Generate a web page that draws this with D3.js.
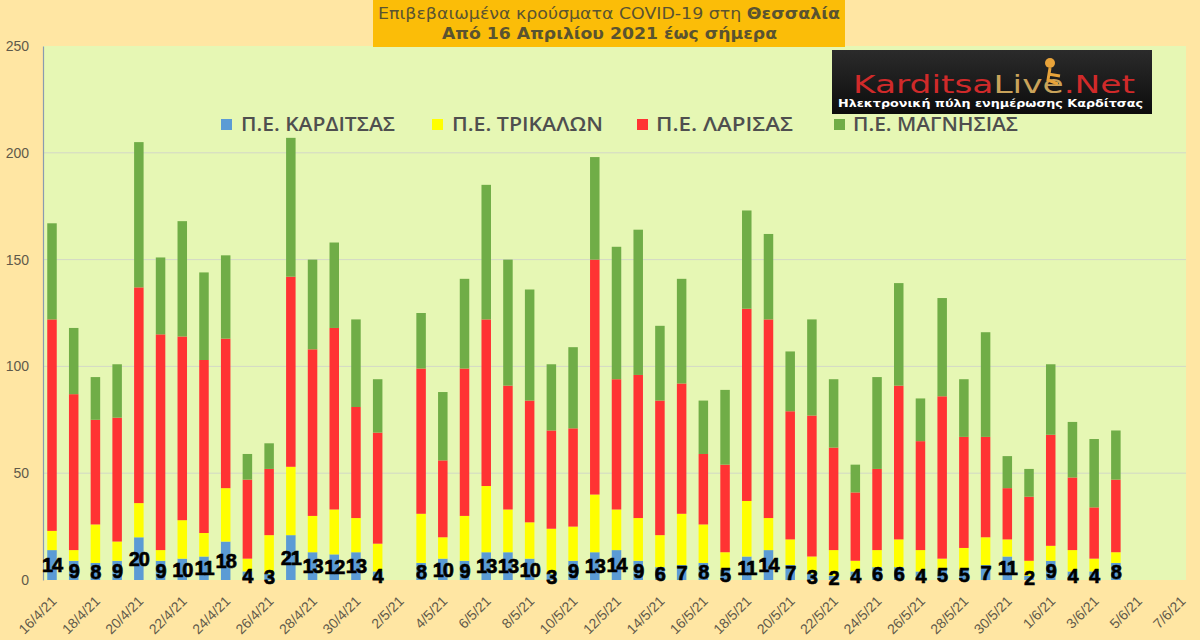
<!DOCTYPE html>
<html>
<head>
<meta charset="utf-8">
<script src="https://cdn.jsdelivr.net/npm/d3@7"></script>
<style>
  body { margin: 0; background: #ffe6a3; }
  svg { display: block; }
</style>
</head>
<body>
<div id="chart"></div>
<script>
// dates with data (2/5/21 has no report)
const days = [
  "16/4", "17/4", "18/4", "19/4", "20/4", "21/4", "22/4", "23/4", "24/4", "25/4", "26/4", "27/4", "28/4", "29/4", "30/4", "1/5",
  "3/5", "4/5", "5/5", "6/5", "7/5", "8/5", "9/5", "10/5", "11/5", "12/5", "13/5", "14/5", "15/5", "16/5", "17/5", "18/5", "19/5", "20/5",
  "21/5", "22/5", "23/5", "24/5", "25/5", "26/5", "27/5", "28/5", "29/5", "30/5", "31/5", "1/6", "2/6", "3/6", "4/6"
];
const karditsa = [14, 9, 8, 9, 20, 9, 10, 11, 18, 4, 3, 21, 13, 12, 13, 4,
  8, 10, 9, 13, 13, 10, 3, 9, 13, 14, 9, 6, 7, 8, 5, 11, 14, 7,
  3, 2, 4, 6, 6, 4, 5, 5, 7, 11, 2, 9, 4, 4, 8];
const trikala = [9, 5, 18, 9, 16, 5, 18, 11, 25, 6, 18, 32, 17, 21, 16, 13,
  23, 10, 21, 31, 20, 17, 21, 16, 27, 19, 20, 15, 24, 18, 8, 26, 15, 12,
  8, 12, 5, 8, 13, 10, 5, 10, 13, 8, 7, 7, 10, 6, 5];
const larisa = [99, 73, 49, 58, 101, 101, 86, 81, 70, 37, 31, 89, 78, 85, 52, 52,
  68, 36, 69, 78, 58, 57, 46, 46, 110, 61, 67, 63, 61, 33, 41, 90, 93, 60,
  66, 48, 32, 38, 72, 51, 76, 52, 47, 24, 30, 52, 34, 24, 34];
const magnisia = [45, 31, 20, 25, 68, 36, 54, 41, 39, 12, 12, 65, 42, 40, 41, 25,
  26, 32, 42, 63, 59, 52, 31, 38, 48, 62, 68, 35, 49, 25, 35, 46, 40, 28,
  45, 32, 13, 43, 48, 20, 46, 27, 49, 15, 13, 33, 26, 32, 23];

const seriesNames = ["Π.Ε. ΚΑΡΔΙΤΣΑΣ", "Π.Ε. ΤΡΙΚΑΛΩΝ", "Π.Ε. ΛΑΡΙΣΑΣ", "Π.Ε. ΜΑΓΝΗΣΙΑΣ"];
const seriesKeys = ["karditsa", "trikala", "larisa", "magnisia"];
const colors = ["#5b9bd5", "#ffff00", "#ff3333", "#70ad47"];
const yTicks = [0, 50, 100, 150, 200, 250];
const axisStart = "16/4", axisEnd = "7/6";

const parseDay = s => d3.timeParse("%d/%m/%Y")(s + "/2021");

const data = days.map((d, i) => ({
  date: parseDay(d),
  karditsa: karditsa[i],
  trikala: trikala[i],
  larisa: larisa[i],
  magnisia: magnisia[i]
}));

const W = 1200, H = 640;
const plot = { left: 43, right: 1186, top: 46, bottom: 580 };

const svg = d3.select("#chart").append("svg")
  .attr("width", W)
  .attr("height", H);

const x = d3.scaleTime()
  .domain([parseDay(axisStart), parseDay(axisEnd)])
  .range([52, 1181]);
const y = d3.scaleLinear()
  .domain([0, 250])
  .range([plot.bottom, plot.top]);

// plot area
svg.append("rect")
  .attr("x", plot.left)
  .attr("y", plot.top)
  .attr("width", plot.right - plot.left)
  .attr("height", plot.bottom - plot.top)
  .attr("fill", "#e6f7b4");

svg.append("g")
  .selectAll("line")
  .data(yTicks.filter(t => t > 0 && t < 250))
  .enter().append("line")
  .attr("x1", plot.left)
  .attr("x2", plot.right)
  .attr("y1", d => y(d))
  .attr("y2", d => y(d))
  .attr("stroke", "#d3d8c6")
  .attr("stroke-width", 1);

// y axis
const yAxis = svg.append("g")
  .attr("transform", `translate(${plot.left},0)`)
  .call(d3.axisLeft(y).tickValues(yTicks).tickSize(0).tickPadding(14));
yAxis.select(".domain").attr("stroke", "#8a9bb0").attr("stroke-width", 1.2);
yAxis.selectAll("text")
  .attr("fill", "#5f5a4a")
  .style("font-family", "'Liberation Sans', Arial, sans-serif")
  .style("font-size", "14px");

// x axis
const ticks = d3.timeDay.range(parseDay(axisStart), d3.timeDay.offset(parseDay(axisEnd), 1), 2);
const xAxis = svg.append("g")
  .attr("transform", `translate(0,${plot.bottom})`)
  .call(d3.axisBottom(x).tickValues(ticks).tickFormat(d3.timeFormat("%-d/%-m/%y")).tickSize(0));
xAxis.select(".domain").remove();
xAxis.selectAll("text")
  .attr("fill", "#5f5a4a")
  .style("font-family", "'Liberation Sans', Arial, sans-serif")
  .style("font-size", "14px")
  .attr("text-anchor", "end")
  .attr("dy", null)
  .attr("y", 0)
  .attr("transform", "translate(5,22) rotate(-45)");

// stacked bars
const stack = d3.stack().keys(seriesKeys)(data);
const barW = 9.5;

svg.append("g")
  .selectAll("g")
  .data(stack)
  .enter().append("g")
  .attr("fill", (d, i) => colors[i])
  .selectAll("rect")
  .data(d => d)
  .enter().append("rect")
  .attr("x", d => x(d.data.date) - barW / 2)
  .attr("y", d => y(d[1]))
  .attr("width", barW)
  .attr("height", d => y(d[0]) - y(d[1]));

// data labels for Karditsa
svg.append("g")
  .selectAll("text")
  .data(data)
  .enter().append("text")
  .attr("x", d => x(d.date))
  .attr("y", d => y(d.karditsa / 2))
  .attr("dy", "0.36em")
  .attr("text-anchor", "middle")
  .attr("fill", "#000")
  .style("font-family", "'Liberation Sans', Arial, sans-serif")
  .style("font-weight", "bold")
  .style("font-size", "20px")
  .style("letter-spacing", "-1px")
  .attr("stroke", "#000")
  .attr("stroke-width", 0.6)
  .text(d => d.karditsa);

// legend
const legendItems = [
  { sq: 221, tx: 241, w: 154 },
  { sq: 432, tx: 452, w: 151 },
  { sq: 637, tx: 656, w: 137 },
  { sq: 834, tx: 853, w: 165 }
];
const legend = svg.append("g");
legendItems.forEach((it, i) => {
  legend.append("rect")
    .attr("x", it.sq).attr("y", 119)
    .attr("width", 11).attr("height", 11)
    .attr("fill", colors[i]);
  legend.append("text")
    .attr("x", it.tx).attr("y", 131)
    .attr("fill", "#4f4f4f")
    .style("font-family", "'Open Sans', sans-serif")
    .style("font-weight", "600")
    .style("font-size", "20px")
    .attr("textLength", it.w)
    .attr("lengthAdjust", "spacingAndGlyphs")
    .text(seriesNames[i]);
});

// title box
svg.append("rect")
  .attr("x", 373).attr("y", 0)
  .attr("width", 472).attr("height", 47)
  .attr("fill", "#fbbd08");
const t1 = svg.append("text")
  .attr("x", 378).attr("y", 19)
  .attr("fill", "#5a5330")
  .style("font-family", "'DejaVu Sans', Verdana, sans-serif")
  .style("font-size", "16px")
  .attr("textLength", 462)
  .attr("lengthAdjust", "spacingAndGlyphs");
t1.append("tspan").text("Επιβεβαιωμένα κρούσματα COVID-19 στη ");
t1.append("tspan").style("font-weight", "bold").text("Θεσσαλία");
svg.append("text")
  .attr("x", 442).attr("y", 39)
  .attr("fill", "#5a5330")
  .style("font-family", "'DejaVu Sans', Verdana, sans-serif")
  .style("font-size", "16px")
  .style("font-weight", "bold")
  .attr("textLength", 335)
  .attr("lengthAdjust", "spacingAndGlyphs")
  .text("Από 16 Απριλίου 2021 έως σήμερα");

// logo
const defs = svg.append("defs");
const lg = defs.append("linearGradient").attr("id", "logoBg").attr("x1", 0).attr("y1", 0).attr("x2", 0).attr("y2", 1);
lg.append("stop").attr("offset", "0%").attr("stop-color", "#2b2b2b");
lg.append("stop").attr("offset", "100%").attr("stop-color", "#0c0c0c");
svg.append("rect")
  .attr("x", 832).attr("y", 50)
  .attr("width", 320).attr("height", 64)
  .attr("fill", "url(#logoBg)");
const logo = svg.append("text")
  .attr("x", 853).attr("y", 93)
  .style("font-family", "'DejaVu Sans', Verdana, sans-serif")
  .style("font-size", "25px")
  .attr("textLength", 282)
  .attr("lengthAdjust", "spacingAndGlyphs");
logo.append("tspan").attr("fill", "#d02a2a").text("Karditsa");
logo.append("tspan").attr("fill", "#c9a35a").text("Live");
logo.append("tspan").attr("fill", "#d02a2a").text(".Net");
svg.append("circle").attr("cx", 1050).attr("cy", 63).attr("r", 5).attr("fill", "#e8a33a");
svg.append("path").attr("d", "M1050 68 L1048 80 L1058 84 M1048 74 L1060 76")
  .attr("stroke", "#e8a33a").attr("stroke-width", 3).attr("fill", "none");
svg.append("text")
  .attr("x", 838).attr("y", 107)
  .attr("fill", "#ffffff")
  .style("font-family", "'DejaVu Sans', Verdana, sans-serif")
  .style("font-size", "11px")
  .style("font-weight", "bold")
  .attr("textLength", 305)
  .attr("lengthAdjust", "spacingAndGlyphs")
  .text("Ηλεκτρονική πύλη ενημέρωσης Καρδίτσας");
</script>
</body>
</html>
